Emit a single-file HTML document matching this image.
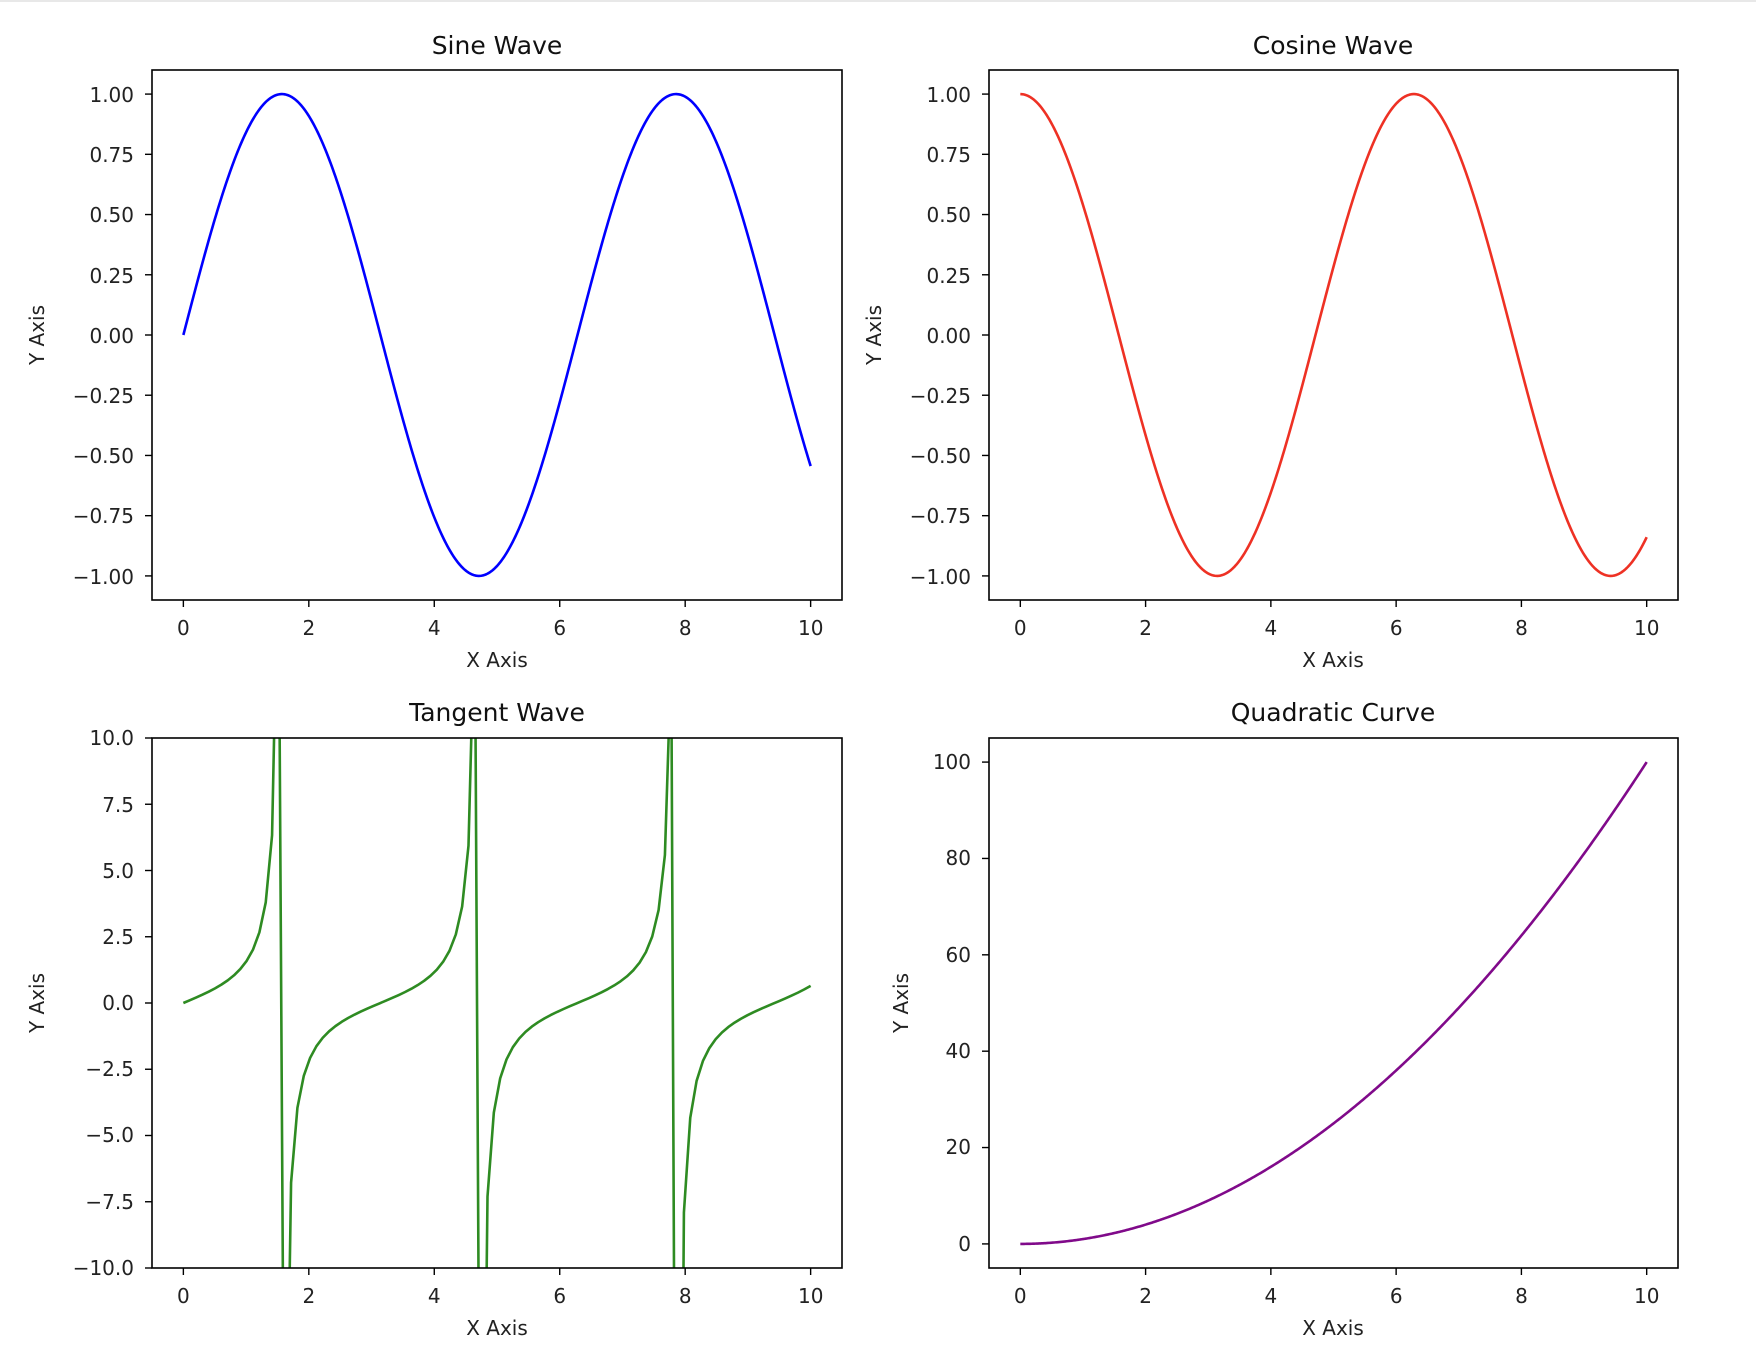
<!DOCTYPE html>
<html><head><meta charset="utf-8"><style>
html,body{margin:0;padding:0;background:#fff;width:1756px;height:1346px;overflow:hidden;}
svg{display:block;font-family:"DejaVu Sans","Liberation Sans",sans-serif;}
.t{font-size:20px;fill:#222;}
.ti{font-size:25px;fill:#111;}
</style></head><body>
<svg id="s" width="1756" height="1346" viewBox="0 0 1756 1346" xmlns="http://www.w3.org/2000/svg">
<rect x="0" y="0" width="1756" height="1346" fill="#fff"/>
<rect x="0" y="0" width="1756" height="2" fill="#e8e8e8"/>
<defs>
<clipPath id="c1"><rect x="152" y="70" width="690" height="530"/></clipPath>
<clipPath id="c2"><rect x="989" y="70" width="689" height="530"/></clipPath>
<clipPath id="c3"><rect x="152" y="738" width="690" height="530"/></clipPath>
<clipPath id="c4"><rect x="989" y="738" width="689" height="530"/></clipPath>
</defs>
<g id="paths"></g>
<g fill="none" stroke="#000" stroke-width="1.6">
<rect x="152" y="70" width="690" height="530"/>
<rect x="989" y="70" width="689" height="530"/>
<rect x="152" y="738" width="690" height="530"/>
<rect x="989" y="738" width="689" height="530"/>
</g>
<g id="ticks" stroke="#000" stroke-width="1.4"></g>
<text class="ti" x="497" y="54" text-anchor="middle">Sine Wave</text>
<text class="ti" x="1333" y="54" text-anchor="middle">Cosine Wave</text>
<text class="ti" x="497" y="721" text-anchor="middle">Tangent Wave</text>
<text class="ti" x="1333" y="721" text-anchor="middle">Quadratic Curve</text>
<text class="t" x="497" y="667" text-anchor="middle">X Axis</text>
<text class="t" x="1333" y="667" text-anchor="middle">X Axis</text>
<text class="t" x="497" y="1335" text-anchor="middle">X Axis</text>
<text class="t" x="1333" y="1335" text-anchor="middle">X Axis</text>
<text class="t" transform="translate(44,335) rotate(-90)" text-anchor="middle">Y Axis</text>
<text class="t" transform="translate(881,335) rotate(-90)" text-anchor="middle">Y Axis</text>
<text class="t" transform="translate(44,1003) rotate(-90)" text-anchor="middle">Y Axis</text>
<text class="t" transform="translate(908,1003) rotate(-90)" text-anchor="middle">Y Axis</text>
<g class="t" text-anchor="middle">
<text x="183.4" y="635">0</text><text x="308.9" y="635">2</text><text x="434.3" y="635">4</text><text x="559.8" y="635">6</text><text x="685.3" y="635">8</text><text x="810.7" y="635">10</text>
<text x="1020.3" y="635">0</text><text x="1145.6" y="635">2</text><text x="1270.9" y="635">4</text><text x="1396.2" y="635">6</text><text x="1521.5" y="635">8</text><text x="1646.7" y="635">10</text>
<text x="183.4" y="1303">0</text><text x="308.9" y="1303">2</text><text x="434.3" y="1303">4</text><text x="559.8" y="1303">6</text><text x="685.3" y="1303">8</text><text x="810.7" y="1303">10</text>
<text x="1020.3" y="1303">0</text><text x="1145.6" y="1303">2</text><text x="1270.9" y="1303">4</text><text x="1396.2" y="1303">6</text><text x="1521.5" y="1303">8</text><text x="1646.7" y="1303">10</text>
</g>
<g class="t" text-anchor="end">
<text x="134" y="102">1.00</text><text x="134" y="162">0.75</text><text x="134" y="222">0.50</text><text x="134" y="283">0.25</text><text x="134" y="343">0.00</text><text x="134" y="403">−0.25</text><text x="134" y="463">−0.50</text><text x="134" y="523">−0.75</text><text x="134" y="584">−1.00</text>
<text x="971" y="102">1.00</text><text x="971" y="162">0.75</text><text x="971" y="222">0.50</text><text x="971" y="283">0.25</text><text x="971" y="343">0.00</text><text x="971" y="403">−0.25</text><text x="971" y="463">−0.50</text><text x="971" y="523">−0.75</text><text x="971" y="584">−1.00</text>
<text x="134" y="745">10.0</text><text x="134" y="812">7.5</text><text x="134" y="878">5.0</text><text x="134" y="944">2.5</text><text x="134" y="1010">0.0</text><text x="134" y="1076">−2.5</text><text x="134" y="1142">−5.0</text><text x="134" y="1209">−7.5</text><text x="134" y="1275">−10.0</text>
<text x="971" y="769">100</text><text x="971" y="865">80</text><text x="971" y="962">60</text><text x="971" y="1058">40</text><text x="971" y="1154">20</text><text x="971" y="1251">0</text>
</g>
</svg>
<script>
(function(){
var NS="http://www.w3.org/2000/svg";
var P=document.getElementById('paths'),T=document.getElementById('ticks');
function mk(L,R,Tp,B,y0,y1){return {T:Tp,B:B,
 X:function(x){return L+(x+0.5)/11*(R-L);},
 Y:function(y){return B-(y-y0)/(y1-y0)*(B-Tp);}};}
var a1=mk(152,842,70,600,-1.1,1.1),a2=mk(989,1678,70,600,-1.1,1.1),
    a3=mk(152,842,738,1268,-10,10),a4=mk(989,1678,738,1268,-5,105);
function line(a,f,n,col,clip){
 var lo=a.T-5,hi=a.B+5,pts=[];
 for(var i=0;i<n;i++){var x=10*i/(n-1);pts.push([a.X(x),a.Y(f(x))]);}
 var d="",pen=false;
 for(var i=0;i<n-1;i++){
  var x1=pts[i][0],y1=pts[i][1],x2=pts[i+1][0],y2=pts[i+1][1];
  var t0=0,t1=1,dy=y2-y1;
  if(dy===0){if(y1<lo||y1>hi){pen=false;continue;}}
  else{var ta=(lo-y1)/dy,tb=(hi-y1)/dy;var tmin=Math.min(ta,tb),tmax=Math.max(ta,tb);
   t0=Math.max(0,tmin);t1=Math.min(1,tmax);if(t0>t1){pen=false;continue;}}
  var sx=x1+(x2-x1)*t0,sy=y1+dy*t0,ex=x1+(x2-x1)*t1,ey=y1+dy*t1;
  if(!pen||t0>0){d+="M"+sx.toFixed(2)+" "+sy.toFixed(2);}
  d+="L"+ex.toFixed(2)+" "+ey.toFixed(2);
  pen=(t1>=1);
 }
 var p=document.createElementNS(NS,'path');p.setAttribute('d',d);
 p.setAttribute('fill','none');p.setAttribute('stroke',col);p.setAttribute('stroke-width','2.6');
 p.setAttribute('stroke-linejoin','round');p.setAttribute('clip-path','url(#'+clip+')');P.appendChild(p);}
line(a1,Math.sin,500,'#0000ff','c1');
line(a2,Math.cos,500,'#ee3124','c2');
line(a3,Math.tan,100,'#2e8b22','c3');
line(a4,function(x){return x*x;},500,'#800a8a','c4');
function tk(x1,y1,x2,y2){var l=document.createElementNS(NS,'line');
 l.setAttribute('x1',x1);l.setAttribute('y1',y1);l.setAttribute('x2',x2);l.setAttribute('y2',y2);T.appendChild(l);}
[[a1,600,152],[a2,600,989],[a3,1268,152],[a4,1268,989]].forEach(function(q){
 for(var x=0;x<=10;x+=2){var px=q[0].X(x);tk(px,q[1],px,q[1]+7);}});
[[a1,152,[-1,-.75,-.5,-.25,0,.25,.5,.75,1]],[a2,989,[-1,-.75,-.5,-.25,0,.25,.5,.75,1]],
 [a3,152,[-10,-7.5,-5,-2.5,0,2.5,5,7.5,10]],[a4,989,[0,20,40,60,80,100]]].forEach(function(q){
 q[2].forEach(function(v){var py=q[0].Y(v);tk(q[1]-7,py,q[1],py);});});
})();
</script>
</body></html>
